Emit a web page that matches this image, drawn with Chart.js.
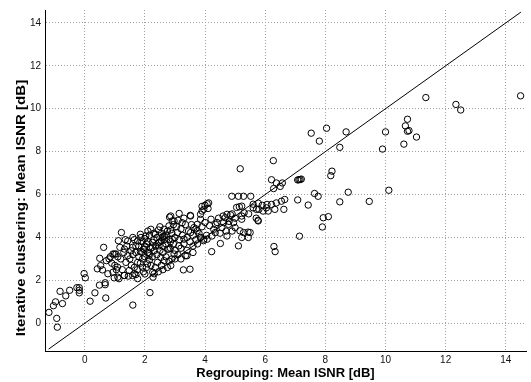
<!DOCTYPE html>
<html>
<head>
<meta charset="utf-8">
<script src="https://cdn.jsdelivr.net/npm/chart.js@4"></script>
<style>
  html, body { margin: 0; padding: 0; background: #fff; }
  #wrap { width: 531px; height: 382px; }
</style>
</head>
<body>
<div id="wrap"><canvas id="myChart"></canvas></div>
<script>
// x = Regrouping mean ISNR, y = Iterative clustering mean ISNR (same order)
var regrouping = [
  -1.19, -1.04, -0.97, -0.93, -0.91, -0.82, -0.74, -0.63, -0.5, -0.26,
  -0.18, -0.18, -0.18, -0.02, 0.02, 0.18, 0.34, 0.42, 0.5, 0.53,
  0.59, 0.49, 0.63, 0.68, 0.68, 0.72, 0.7, 0.81, 0.94, 0.94,
  0.98, 1.04, 1.09, 1.12, 1.14, 1.22, 1.17, 1.31, 1.6, 1.59,
  1.76, 2.17, 2.27, 2.26, 3.28, 3.5, 3.14, 3.51, 2.82, 2.91,
  0.99, 0.77, 1.1, 1.32, 1.48, 1.37, 1.43, 1.54, 1.7, 1.76,
  1.87, 2.03, 2.2, 2.25, 2.31, 2.14, 1.92, 1.76, 1.65, 1.65,
  1.92, 2.09, 2.42, 2.53, 2.47, 2.58, 2.64, 2.8, 2.86, 2.97,
  3.24, 3.08, 2.91, 2.8, 2.97, 3.13, 3.3, 3.52, 3.63, 3.74,
  3.85, 3.9, 3.52, 3.35, 2.86, 2.64, 2.31, 1.7, 1.59, 1.98,
  1.32, 1.43,
  1.2, 1.3, 1.4, 1.5, 1.55, 1.6, 1.65, 1.7, 1.75, 1.8,
  1.8, 1.85, 1.9, 1.9, 1.95, 2.0, 2.0, 2.0, 2.05, 2.1,
  2.1, 2.15, 2.15, 2.2, 2.2, 2.25, 2.3, 2.3, 2.35, 2.35,
  2.4, 2.4, 2.45, 2.5, 2.5, 2.55, 2.55, 2.6, 2.6, 2.65,
  2.7, 2.7, 2.7, 2.75, 2.75, 2.8, 2.85, 2.9, 2.9, 2.95,
  3.0, 3.0, 3.05, 3.1, 3.15, 3.2, 3.2, 3.25, 3.3, 3.35,
  3.4, 3.4, 3.45, 3.5, 3.55, 3.6, 3.6, 3.7, 3.7, 3.75,
  3.8, 3.85, 3.9, 3.95, 1.0, 1.1, 1.25, 1.35, 1.45, 1.05,
  0.9, 0.85, 2.6, 2.45, 2.0, 1.85, 1.6, 2.1, 2.5, 2.35,
  2.6, 2.85, 2.95, 3.1, 3.3, 3.0, 3.2, 2.8, 3.4, 3.6,
  4.07, 4.0, 3.96, 3.85, 4.12, 4.89, 5.11, 5.28, 5.52, 5.17,
  6.21, 6.27, 6.37, 6.57, 6.5, 6.28, 7.12, 7.16, 7.2, 7.08,
  7.08, 7.43, 5.22, 5.14, 5.6, 5.71, 6.04, 6.21, 6.37, 6.54,
  6.65, 6.32, 6.62, 6.1, 5.93, 5.7, 5.77, 4.73, 4.67, 4.62,
  4.56, 4.78, 4.95, 5.0, 5.22, 5.5, 5.28, 5.22, 5.11, 4.51,
  4.73, 4.29, 4.34, 4.23, 4.07, 3.96, 3.85, 3.74, 4.22, 5.22,
  5.16, 5.43, 5.44, 5.79, 5.77, 5.76, 6.06, 6.29, 6.33, 7.14,
  4.4, 4.45, 4.6, 4.85, 4.9, 4.7, 4.8, 4.5, 4.15, 4.0,
  4.2, 4.35, 5.05, 5.3, 5.45, 5.6, 5.9, 4.1, 3.9, 4.05,
  5.0, 4.9,
  1.95, 2.05, 2.15, 2.25, 2.55, 2.65, 2.75, 2.85, 1.85, 2.45,
  7.64, 7.76, 7.53, 7.8, 8.04, 7.9, 7.93, 8.1, 8.18, 8.22,
  8.48, 8.48, 8.69, 8.76, 9.46, 9.9, 10.0, 10.11, 10.61, 10.66,
  10.73, 10.73, 10.78, 11.03, 11.34, 12.34, 12.5, 14.49
];
var clustering = [
  0.51, 0.82, 1.0, 0.23, -0.18, 1.49, 0.92, 1.28, 1.54, 1.66,
  1.66, 1.42, 1.54, 2.32, 2.12, 1.03, 1.42, 2.54, 3.03, 2.69,
  2.49, 1.78, 3.54, 1.89, 1.8, 2.92, 1.18, 3.0, 3.23, 2.38,
  2.12, 3.23, 2.62, 3.85, 2.08, 4.23, 3.54, 2.23, 0.85, 2.23,
  2.08, 1.43, 2.15, 2.38, 2.49, 2.52, 5.12, 5.03, 4.95, 4.77,
  3.23, 2.31, 2.15, 2.23, 2.46, 2.84, 3.15, 3.38, 3.61, 3.84,
  4.0, 4.07, 4.38, 3.77, 3.38, 3.15, 3.0, 2.84, 2.61, 2.31,
  2.61, 2.77, 2.84, 3.07, 3.61, 4.0, 4.38, 4.54, 5.0, 4.77,
  4.69, 4.23, 3.92, 3.46, 3.23, 3.61, 3.92, 4.23, 4.46, 4.61,
  4.85, 5.23, 5.0, 3.15, 2.69, 2.92, 2.31, 2.27, 3.54, 3.46,
  3.46, 3.84,
  3.0, 3.3, 3.6, 3.0, 2.7, 3.2, 3.9, 3.3, 2.5, 3.1,
  3.6, 2.8, 3.3, 3.8, 2.4, 3.1, 3.6, 3.95, 2.6, 3.3,
  3.8, 2.95, 4.1, 3.5, 2.7, 3.1, 3.9, 4.2, 2.6, 3.6,
  3.2, 4.0, 2.4, 3.4, 3.8, 4.2, 2.7, 3.6, 3.3, 3.9,
  3.1, 4.1, 3.7, 2.6, 4.3, 3.9, 3.5, 3.0, 4.2, 3.7,
  3.4, 4.0, 4.5, 3.2, 3.9, 4.4, 3.5, 4.1, 3.7, 4.6,
  3.4, 4.0, 4.3, 3.8, 4.6, 3.6, 4.1, 3.9, 4.4, 3.7,
  4.2, 4.0, 4.5, 3.85, 2.7, 3.1, 2.5, 3.9, 2.2, 2.5,
  2.8, 3.1, 2.5, 4.35, 2.3, 4.15, 4.0, 4.3, 4.5, 4.15,
  4.05, 4.35, 4.6, 4.8, 4.9, 3.0, 3.0, 2.9, 3.15, 3.3,
  5.57, 5.5, 5.31, 5.08, 5.61, 5.92, 5.92, 5.92, 5.92, 7.2,
  6.69, 7.58, 6.54, 6.54, 6.38, 6.28, 6.69, 6.7, 6.72, 6.68,
  5.75, 5.51, 5.46, 5.43, 5.38, 5.31, 5.38, 5.54, 5.61, 5.69,
  5.77, 5.31, 5.31, 5.23, 5.23, 4.9, 4.77, 5.08, 4.92, 4.69,
  4.46, 4.61, 4.69, 4.46, 4.85, 4.23, 4.23, 4.0, 3.61, 3.72,
  4.07, 4.38, 4.23, 4.07, 3.92, 3.92, 4.0, 4.31, 3.34, 5.0,
  4.31, 4.25, 4.0, 5.31, 5.6, 4.8, 5.54, 3.58, 3.34, 4.06,
  4.7, 4.9, 5.0, 5.05, 4.3, 4.3, 4.75, 4.2, 4.55, 4.7,
  4.85, 4.6, 5.4, 5.15, 5.1, 5.55, 5.5, 5.35, 5.45, 4.1,
  4.9, 5.1,
  3.45, 3.7, 3.25, 3.55, 3.85, 4.05, 3.45, 3.8, 3.35, 3.75,
  6.05, 5.92, 8.86, 8.49, 9.09, 4.49, 4.92, 4.97, 6.88, 7.09,
  8.2, 5.66, 8.92, 6.11, 5.68, 8.12, 8.92, 6.2, 8.35, 9.2,
  9.51, 8.95, 8.98, 8.68, 10.52, 10.2, 9.94, 10.6
];
// y = x reference line
var lineEnds = [-1.2, 14.5];
var tickValues = [0, 2, 4, 6, 8, 10, 12, 14];
var xTitle = 'Regrouping: Mean ISNR [dB]';
var yTitle = 'Iterative clustering: Mean ISNR [dB]';

var points = regrouping.map(function (v, i) { return { x: v, y: clustering[i] }; });
var diag = lineEnds.map(function (v) { return { x: v, y: v }; });

function fixTicks(scale) {
  scale.ticks = tickValues.map(function (v) { return { value: v }; });
}

const yTitlePlugin = {
  id: 'yTitle',
  afterDraw(chart) {
    const c = chart.ctx;
    c.save();
    c.translate(21, 208);
    c.rotate(-Math.PI / 2);
    c.scale(1.16, 1);
    c.font = 'bold 13px "Liberation Sans", Arial, sans-serif';
    c.textAlign = 'center';
    c.textBaseline = 'middle';
    c.fillStyle = '#000';
    c.fillText(yTitle, 0, 0);
    c.restore();
  }
};

const tickFont = { family: '"Liberation Sans", Arial, sans-serif', size: 10 };
const ctx = document.getElementById('myChart');

new Chart(ctx, {
  type: 'scatter',
  data: {
    datasets: [{
      data: points,
      pointStyle: 'circle',
      pointRadius: 3.2,
      borderWidth: 1,
      borderColor: '#000',
      backgroundColor: 'rgba(0,0,0,0)'
    }, {
      type: 'line',
      data: diag,
      borderColor: '#000',
      borderWidth: 1,
      pointRadius: 0,
      fill: false
    }]
  },
  plugins: [yTitlePlugin],
  options: {
    responsive: true,
    maintainAspectRatio: false,
    animation: false,
    layout: { padding: { top: 7, right: 1, left: 0, bottom: 0 } },
    plugins: {
      legend: { display: false },
      tooltip: { enabled: false }
    },
    scales: {
      x: {
        type: 'linear',
        min: -1.32,
        max: 14.67,
        afterBuildTicks: fixTicks,
        afterFit: function (s) { s.height = 31; },
        grid: { color: '#a0a0a0', drawTicks: false },
        border: { color: '#000', width: 1, dash: [1, 2] },
        ticks: { autoSkip: false, padding: 3, color: '#111', font: tickFont, maxRotation: 0 },
        title: {
          display: true,
          text: xTitle,
          color: '#000',
          font: { family: '"Liberation Sans", Arial, sans-serif', size: 13, weight: 'bold' },
          padding: { top: 0, bottom: 1 }
        }
      },
      y: {
        type: 'linear',
        min: -1.29,
        max: 14.6,
        afterBuildTicks: fixTicks,
        afterFit: function (s) { s.width = 45; },
        grid: { color: '#a0a0a0', drawTicks: false },
        border: { color: '#000', width: 1, dash: [1, 2] },
        ticks: { autoSkip: false, padding: 4, color: '#111', font: tickFont },
        title: { display: false }
      }
    }
  }
});
</script>
</body>
</html>
